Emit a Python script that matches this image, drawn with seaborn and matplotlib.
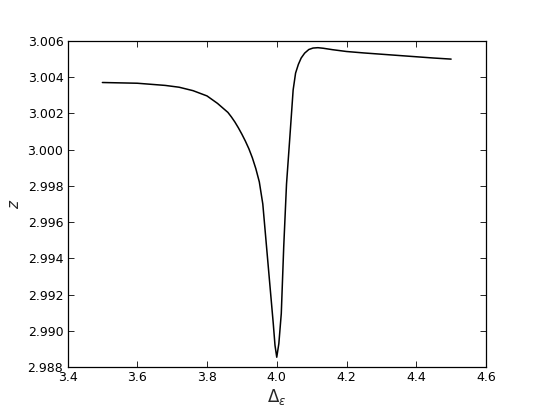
import numpy as np
import pandas as pd
import matplotlib
matplotlib.use("Agg")
import matplotlib.pyplot as plt
import seaborn as sns

# values
delta_eps = [3.50, 3.60, 3.68, 3.72, 3.76, 3.80, 3.83, 3.86, 3.87, 3.88,
             3.89, 3.90, 3.91, 3.92, 3.93, 3.94, 3.95, 3.96, 3.97, 3.98,
             3.99, 3.995, 4.000, 4.006, 4.013, 4.020, 4.028, 4.037, 4.047,
             4.054, 4.062, 4.070, 4.080, 4.092, 4.104, 4.118, 4.133, 4.16,
             4.20, 4.25, 4.30, 4.35, 4.40, 4.45, 4.50]
z_vals = [3.00370, 3.00366, 3.00354, 3.00344, 3.00325, 3.00296, 3.00255,
          3.00205, 3.00180, 3.00152, 3.00120, 3.00085, 3.00047, 3.00005,
          2.99955, 2.99895, 2.99822, 2.99700, 2.99480, 2.99260, 2.99041,
          2.98920, 2.98855, 2.98930, 2.99096, 2.99464, 2.99810, 3.00053,
          3.00329, 3.00422, 3.00470, 3.00505, 3.00532, 3.00552, 3.00560,
          3.00562, 3.00559, 3.00551, 3.00541, 3.00533, 3.00526, 3.00519,
          3.00512, 3.00505, 3.00499]

xticks = [3.4, 3.6, 3.8, 4.0, 4.2, 4.4, 4.6]
yticks = [2.988, 2.990, 2.992, 2.994, 2.996, 2.998, 3.000, 3.002, 3.004, 3.006]

df = pd.DataFrame({"delta": delta_eps, "z": z_vals})

sns.set_style("ticks")
plt.rcParams["font.family"] = ["DejaVu Sans"]
plt.rcParams["mathtext.fontset"] = "dejavusans"

fig = plt.figure(figsize=(5.4, 4.08), dpi=100)
ax = fig.add_axes([0.125, 0.1, 0.775, 0.8])

sns.lineplot(data=df, x="delta", y="z", color="black", linewidth=1.1,
             sort=False, ax=ax)

ax.set_xlim(3.4, 4.6)
ax.set_ylim(2.988, 3.006)
ax.set_xticks(xticks)
ax.set_xticklabels([f"{t:.1f}" for t in xticks])
ax.set_yticks(yticks)
ax.set_yticklabels([f"{t:.3f}" for t in yticks])

ax.tick_params(direction="in", top=True, right=True, length=4, width=0.6,
               labelsize=9, colors="black", pad=3)
for s in ax.spines.values():
    s.set_linewidth(0.9)
    s.set_color("black")

ax.set_xlabel(r"$\Delta_\epsilon$", fontsize=12, labelpad=2)
ax.set_ylabel(r"$z$", fontsize=11, labelpad=4)

fig.savefig("out.png", dpi=100)
plt.close(fig)
